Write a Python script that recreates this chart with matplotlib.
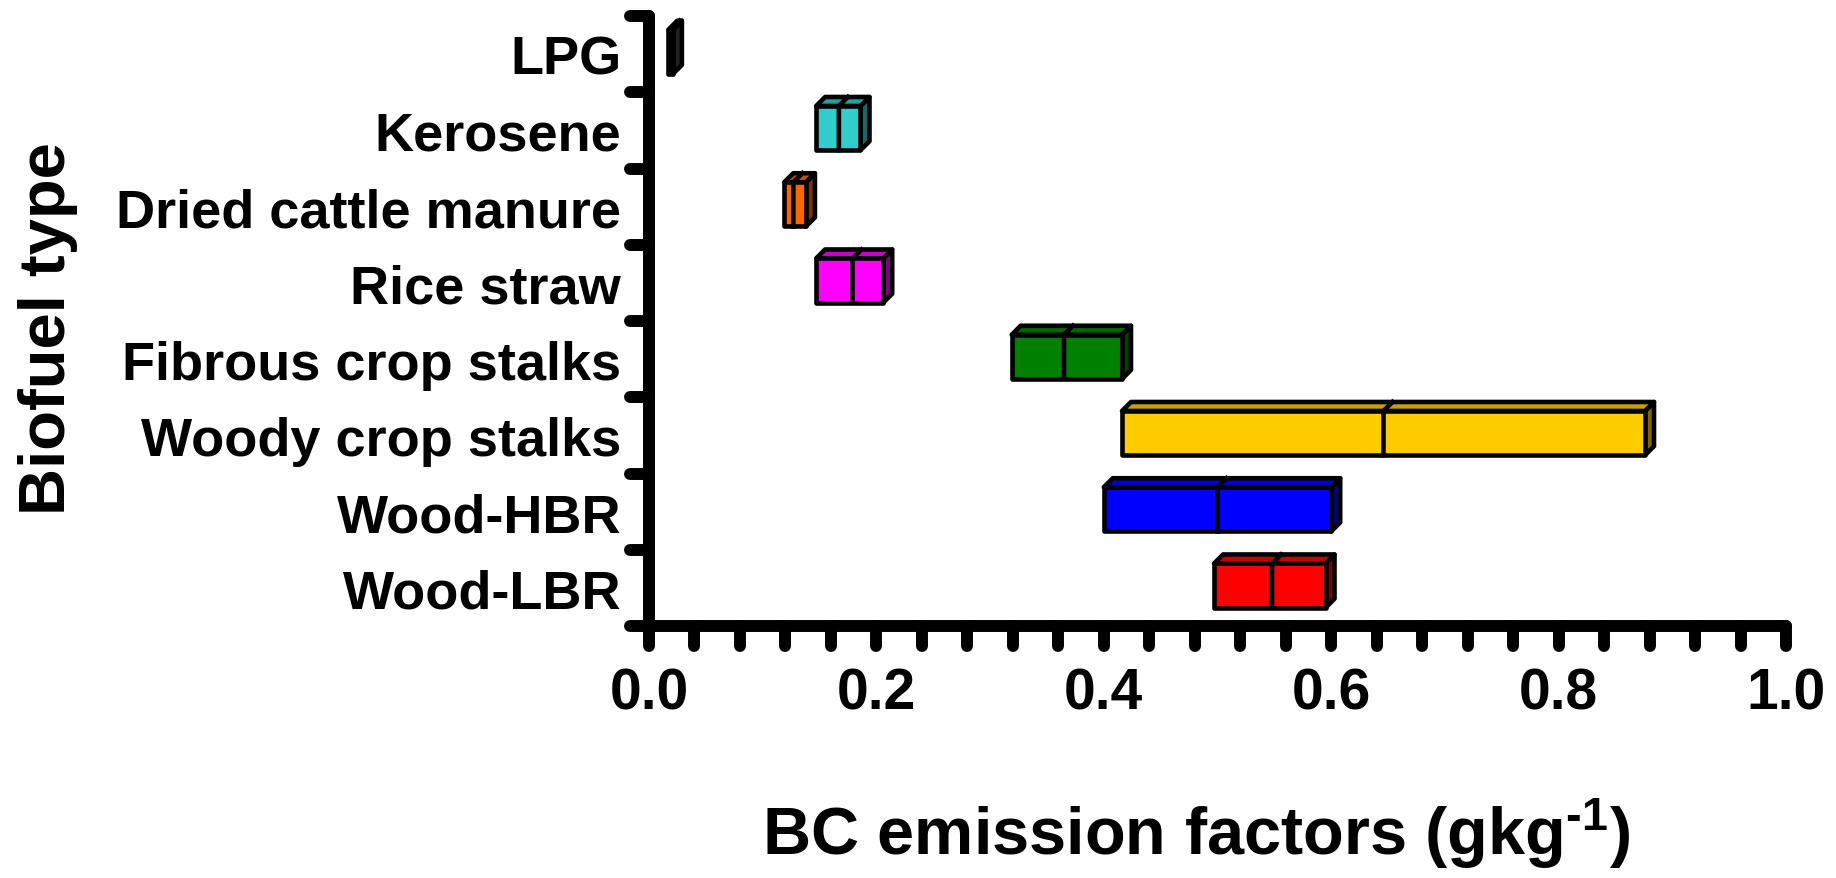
import numpy as np
import matplotlib
matplotlib.use("Agg")
import matplotlib.pyplot as plt
from matplotlib.patches import Polygon
from matplotlib.transforms import blended_transform_factory
from matplotlib.colors import to_rgb

plt.rcParams['font.family'] = ['Liberation Sans', 'DejaVu Sans']
plt.rcParams['font.weight'] = 'bold'
plt.rcParams['mathtext.default'] = 'regular'

# BC emission factor ranges per fuel (g/kg): min, median, max
fuels = ['LPG', 'Kerosene', 'Dried cattle manure', 'Rice straw',
         'Fibrous crop stalks', 'Woody crop stalks', 'Wood-HBR', 'Wood-LBR']
ef_min = [0.017, 0.147, 0.119, 0.147, 0.319, 0.416, 0.400, 0.497]
ef_median = [0.019, 0.167, 0.127, 0.179, 0.365, 0.646, 0.500, 0.548]
ef_max = [0.021, 0.186, 0.138, 0.206, 0.416, 0.876, 0.600, 0.595]
colors = ['#404040', '#33CCCC', '#FF6600', '#FF00FF',
          '#008000', '#FFCC00', '#0000FF', '#FF0000']

W, H = 1836, 879
fig = plt.figure(figsize=(W / 100, H / 100), dpi=100)
ax_l, ax_r, ax_t, ax_b = 649, 1786, 17, 627
ax = fig.add_axes([ax_l / W, 1 - ax_b / H, (ax_r - ax_l) / W, (ax_b - ax_t) / H])
ax.set_xlim(0, 1)
ax.set_ylim(len(fuels) - 0.5, -0.5)

# pixel -> data conversions for the box depth
px_x = 1.0 / (ax_r - ax_l)
px_y = len(fuels) / (ax_b - ax_t)
dx, dy = 9 * px_x, -9 * px_y
box_h = 0.58
shift = -0.03


def shade(c, f):
    r, g, b = to_rgb(c)
    return (r * f, g * f, b * f)


lw = 3.3
for i, (lo, md, hi, c) in enumerate(zip(ef_min, ef_median, ef_max, colors)):
    top = i + shift - box_h / 2
    bot = i + shift + box_h / 2
    common = dict(edgecolor='black', lw=lw, joinstyle='round', zorder=3)
    # right side face
    ax.add_patch(Polygon([(hi, top), (hi + dx, top + dy), (hi + dx, bot + dy), (hi, bot)],
                         facecolor=shade(c, 0.5), **common))
    # top face
    ax.add_patch(Polygon([(lo, top), (hi, top), (hi + dx, top + dy), (lo + dx, top + dy)],
                         facecolor=shade(c, 0.78), **common))
    # front face
    ax.add_patch(Polygon([(lo, top), (hi, top), (hi, bot), (lo, bot)],
                         facecolor=c, **common))
    # median divider
    ax.plot([md, md, md + dx], [bot, top, top + dy], color='black', lw=lw,
            solid_joinstyle='round', zorder=4)

# axes styling
for s in ['top', 'right']:
    ax.spines[s].set_visible(False)
for s in ['left', 'bottom']:
    ax.spines[s].set_linewidth(8.6)
    ax.spines[s].set_capstyle('round')

ax.set_xticks(np.arange(0, 1.01, 0.2))
ax.set_xticklabels([f'{v:.1f}' for v in np.arange(0, 1.01, 0.2)])
ax.set_yticks(range(len(fuels)))
ax.set_yticklabels(fuels)
ax.tick_params(axis='x', length=0, pad=29, labelsize=41)
ax.tick_params(axis='y', length=0, pad=20, labelsize=39)
for lab in ax.get_xticklabels() + ax.get_yticklabels():
    lab.set_fontweight('bold')

# rounded tick marks
tr_y = blended_transform_factory(ax.transAxes, ax.transData)
for b in np.arange(-0.5, len(fuels), 1.0):
    ax.plot([0, -19 * px_x], [b, b], color='black', lw=8.6,
            solid_capstyle='round', transform=tr_y, clip_on=False, zorder=5)
tr_x = blended_transform_factory(ax.transData, ax.transAxes)
tick_len = 20 / (ax_b - ax_t)
for t in np.arange(0, 1.001, 0.04):
    ax.plot([t, t], [0, -tick_len], color='black', lw=8.6,
            solid_capstyle='round', transform=tr_x, clip_on=False, zorder=5)

ax.set_xlabel('BC emission factors (gkg$^{\u20101}$)', fontsize=48,
              fontweight='bold', va='center')
ax.xaxis.set_label_coords(0.481, -0.339)
ax.set_ylabel('Biofuel type', fontsize=47, fontweight='bold', va='center')
ax.yaxis.set_label_coords(-0.529, 0.49)

fig.savefig('out.png', dpi=100)
